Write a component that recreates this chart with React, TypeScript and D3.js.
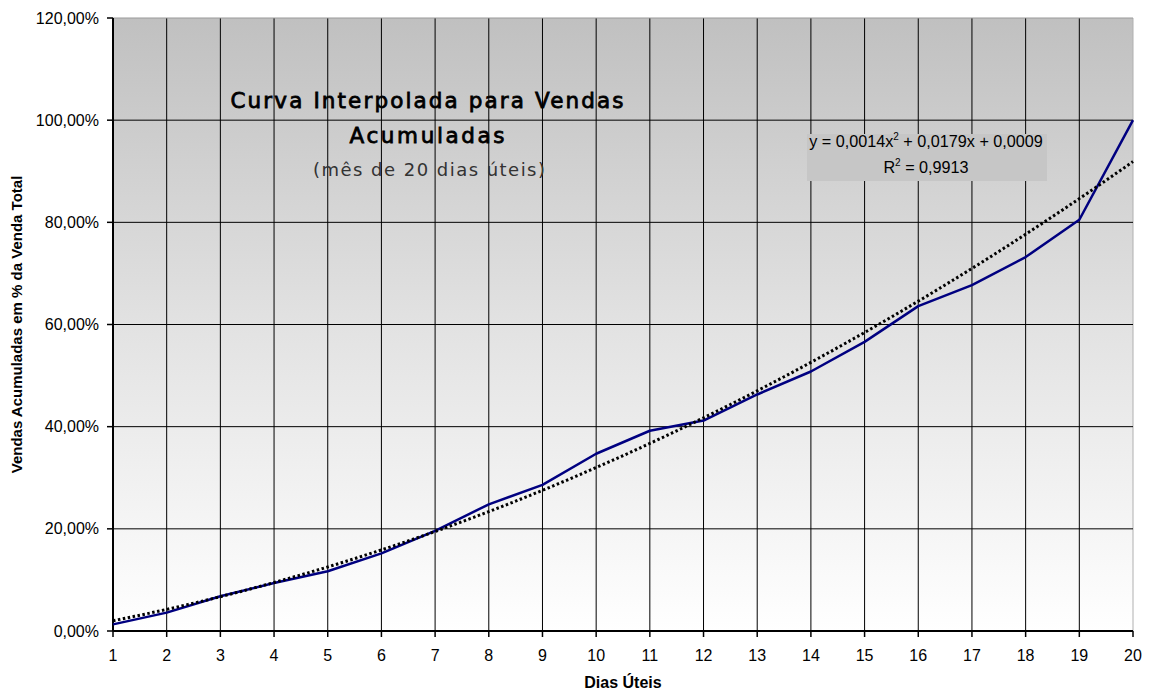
import React from "react";
import * as d3 from "d3";

const days = [1, 2, 3, 4, 5, 6, 7, 8, 9, 10, 11, 12, 13, 14, 15, 16, 17, 18, 19, 20];
const cumulative = [0.013, 0.036, 0.068, 0.094, 0.117, 0.152, 0.196, 0.248, 0.286, 0.347, 0.392, 0.412, 0.463, 0.508, 0.566, 0.636, 0.677, 0.732, 0.805, 1.0];
const trendCoefs = [0.0014, 0.0179, 0.0009];
const yTicks = [0, 0.2, 0.4, 0.6, 0.8, 1.0, 1.2];
const titleLines = ["Curva Interpolada para Vendas", "Acumuladas"];
const subtitle = "(mês de 20 dias úteis)";
const xTitle = "Dias Úteis";
const yTitle = "Vendas Acumuladas em % da Venda Total";

const W = 1149, H = 691;
const L = 113, R = 1133, T = 18, B = 631;

export default function App() {
  const x = d3.scaleLinear().domain([1, 20]).range([L, R]);
  const y = d3.scaleLinear().domain([0, 1.2]).range([B, T]);
  const line = d3.line<[number, number]>().x(d => x(d[0])).y(d => y(d[1]));
  const dataPts: [number, number][] = days.map((d, i) => [d, cumulative[i]]);
  const trendPts: [number, number][] = d3.range(1, 20.001, 0.1).map(v => [v, trendCoefs[0] * v * v + trendCoefs[1] * v + trendCoefs[2]]);
  const fmt = (v: number) => (v * 100).toFixed(2).replace(".", ",") + "%";
  const arial = "'Liberation Sans', Arial, sans-serif";
  const dejavu = "'DejaVu Sans', Verdana, sans-serif";
  return (
    <svg width={W} height={H} style={{ position: "absolute", left: 0, top: 0, background: "#fff" }}>
      <defs>
        <linearGradient id="bg" x1="0" y1="0" x2="0" y2="1">
          <stop offset="0" stopColor="#c0c0c0" />
          <stop offset="0.5" stopColor="#e2e2e2" />
          <stop offset="1" stopColor="#ffffff" />
        </linearGradient>
      </defs>
      <rect x={L} y={T} width={R - L} height={B - T} fill="url(#bg)" />
      {days.map(d => (
        <line key={"v" + d} x1={x(d)} x2={x(d)} y1={T} y2={B} stroke={d === 20 ? "#b0b0b0" : "#000"} strokeWidth={1} />
      ))}
      {yTicks.map(t => (
        <line key={"h" + t} x1={L} x2={R} y1={y(t)} y2={y(t)} stroke={t === 1.2 ? "#999" : "#000"} strokeWidth={1} />
      ))}
      <rect x={807} y={134} width={240} height={47} fill="#c6c6c6" />
      <text x={926} y={147} textAnchor="middle" fontFamily={arial} fontSize={16.2} fill="#000">
        y = 0,0014x<tspan dy={-7} fontSize={10}>2</tspan><tspan dy={7}> + 0,0179x + 0,0009</tspan>
      </text>
      <text x={926} y={173} textAnchor="middle" fontFamily={arial} fontSize={16.2} fill="#000">
        R<tspan dy={-7} fontSize={10}>2</tspan><tspan dy={7}> = 0,9913</tspan>
      </text>
      {titleLines.map((t, i) => (
        <text key={t} x={427} y={108 + i * 35} textAnchor="middle" fontFamily={dejavu} fontSize={21.5} fill="#000" stroke="#000" strokeWidth={0.8}
          textLength={i === 0 ? 393 : 155} lengthAdjust="spacing">{t}</text>
      ))}
      <text x={429} y={176} textAnchor="middle" fontFamily={dejavu} fontSize={18} fill="#333" textLength={232} lengthAdjust="spacing">{subtitle}</text>
      <line x1={L} x2={L} y1={T} y2={B} stroke="#000" strokeWidth={2} />
      <line x1={L} x2={R} y1={B} y2={B} stroke="#000" strokeWidth={2} />
      {yTicks.map(t => (
        <g key={"yt" + t}>
          <line x1={L - 6} x2={L} y1={y(t)} y2={y(t)} stroke="#000" strokeWidth={1.5} />
          <text x={99} y={y(t) + 5.5} textAnchor="end" fontFamily={arial} fontSize={16} fill="#000">{fmt(t)}</text>
        </g>
      ))}
      {days.map(d => (
        <g key={"xt" + d}>
          <line x1={x(d)} x2={x(d)} y1={B} y2={B + 6} stroke="#000" strokeWidth={1.5} />
          <text x={x(d)} y={B + 30} textAnchor="middle" fontFamily={arial} fontSize={16} fill="#000">{d}</text>
        </g>
      ))}
      <path d={line(dataPts) || ""} fill="none" stroke="#000080" strokeWidth={2.5} strokeLinejoin="round" />
      <path d={line(trendPts) || ""} fill="none" stroke="#000" strokeWidth={3} strokeDasharray="2.5,2.5" />
      <text x={623} y={688} textAnchor="middle" fontFamily={arial} fontWeight="bold" fontSize={16} fill="#000">{xTitle}</text>
      <text transform={`translate(22,${(T + B) / 2}) rotate(-90)`} textAnchor="middle" fontFamily={arial} fontWeight="bold" fontSize={15} fill="#000">{yTitle}</text>
    </svg>
  );
}
